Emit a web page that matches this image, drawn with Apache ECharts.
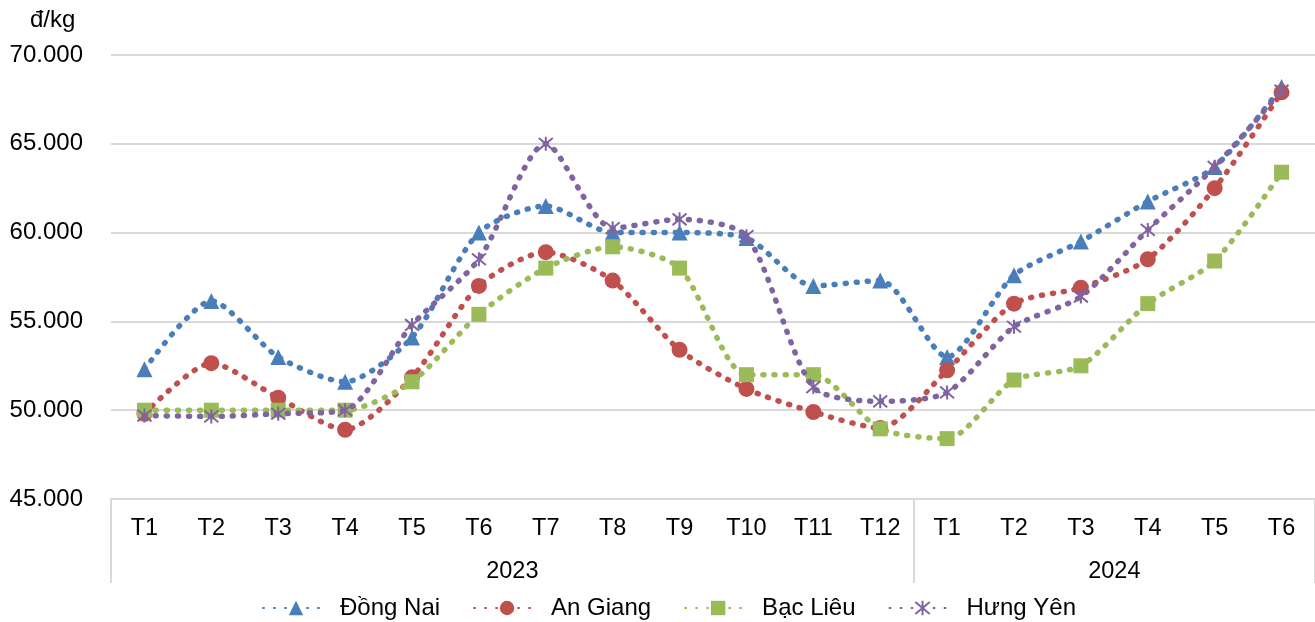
<!DOCTYPE html>
<html>
<head>
<meta charset="utf-8">
<script src="https://cdn.jsdelivr.net/npm/echarts@6/dist/echarts.min.js"></script>
<style>
html,body{margin:0;padding:0;background:#fff;}
#chart{width:1315px;height:622px;}
</style>
</head>
<body>
<div id="chart"></div>
<script>
const months = ['T1','T2','T3','T4','T5','T6','T7','T8','T9','T10','T11','T12','T1','T2','T3','T4','T5','T6'];
const years = ['2023','2024'];
const yearCenters = [6, 15];
const yearBounds = [0, 12, 18];
const unitLabel = 'đ/kg';
const seriesNames = ['Đồng Nai','An Giang','Bạc Liêu','Hưng Yên'];
const dongNai = [52300,56150,53000,51600,54100,60000,61500,60000,60000,59700,57000,57300,53000,57600,59500,61750,63700,68200];
const anGiang = [49800,52650,50700,48900,51850,57000,58900,57300,53400,51200,49900,49000,52250,56000,56900,58500,62500,67900];
const bacLieu = [50000,50000,50000,50000,51600,55400,58000,59200,58000,52000,52000,48950,48400,51700,52500,56000,58400,63400];
const hungYen = [49700,49650,49800,50000,54800,58500,65000,60250,60750,59800,51300,50500,51000,54700,56400,60150,63700,68000];
const colors = ['#4A7EBB','#C0504D','#9BBB59','#8064A2'];

const FONT = 'Liberation Sans, Arial, sans-serif';
const FS = 24;
const fmt = v => String(v).replace(/\B(?=(\d{3})+(?!\d))/g, '.');

const symbols = ['triangle','circle','rect','path://M-5,-5L5,5M-5,5L5,-5M0,-6L0,6'];
const sizes = [16,16,15,14];
const dataSets = [dongNai, anGiang, bacLieu, hungYen];

const chart = echarts.init(document.getElementById('chart'), null, {renderer:'canvas'});
chart.setOption({
  animation: false,
  backgroundColor: '#fff',
  title: {
    text: unitLabel, left: 25, top: 3,
    textStyle: {fontFamily: FONT, fontSize: 24, fontWeight: 'normal', color: '#000'}
  },
  legend: {
    bottom: -3, left: 257,
    itemWidth: 66, itemHeight: 18, itemGap: 33,
    textStyle: {fontFamily: FONT, fontSize: FS, color: '#000', padding: [0, 0, 0, 6]},
    data: seriesNames
  },
  grid: {left: 111, top: 55, width: 1210, bottom: 123, containLabel: false},
  xAxis: [
    {
      type: 'category', data: months, boundaryGap: true, position: 'bottom',
      axisLine: {show: true, lineStyle: {color: '#d9d9d9', width: 2}},
      axisTick: {show: false},
      axisLabel: {fontFamily: FONT, fontSize: 23.5, color: '#000', margin: 18, interval: 0}
    },
    {
      type: 'value', min: 0, max: 18, position: 'bottom', gridIndex: 0,
      axisLine: {show: false},
      splitLine: {show: false},
      axisTick: {show: true, customValues: yearBounds, length: 84, inside: false, lineStyle: {color: '#d9d9d9', width: 2}},
      axisLabel: {
        show: true, customValues: yearCenters, margin: 61,
        fontFamily: FONT, fontSize: 23.5, color: '#000',
        formatter: v => years[yearCenters.indexOf(v)] || ''
      }
    }
  ],
  yAxis: {
    type: 'value', min: 45000, max: 70000, interval: 5000,
    axisLine: {show: false}, axisTick: {show: false},
    splitLine: {lineStyle: {color: '#d9d9d9', width: 2}},
    axisLabel: {fontFamily: FONT, fontSize: 24, color: '#000', margin: 28, formatter: fmt}
  },
  series: seriesNames.map((name, i) => ({
    name: name, type: 'line', xAxisIndex: 0, data: dataSets[i],
    smooth: 0.25,
    symbol: symbols[i], symbolSize: sizes[i],
    color: colors[i],
    itemStyle: {color: colors[i], borderColor: colors[i], borderWidth: i === 3 ? 2 : 0},
    lineStyle: {color: colors[i], width: 5.5, type: [1, 10], cap: 'round'},
    z: 2 + i
  }))
});
</script>
</body>
</html>
